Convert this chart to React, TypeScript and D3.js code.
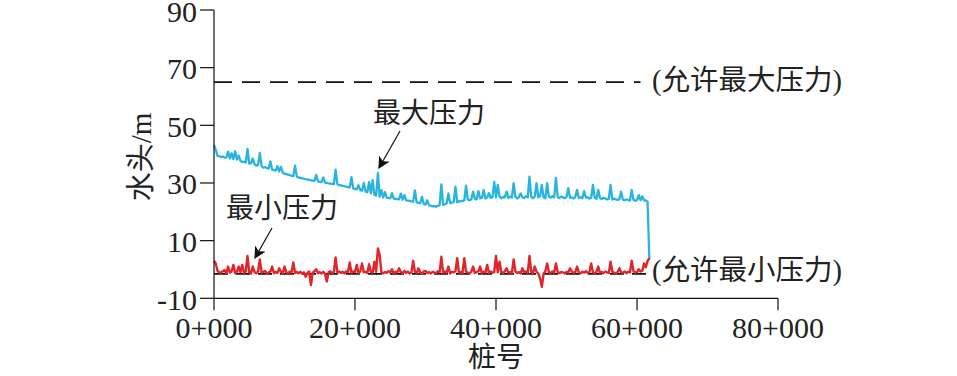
import React from "react";
import * as d3 from "d3";

// station step (km) between consecutive samples
const STATION_STEP = 0.25;

// 最大压力 (m), one value per 0.25 km from 0+000
const maxPressure: number[] = [
  43.2, 41.5, 39.4, 39.3, 39.0, 39.2, 38.8, 38.9,
  40.9, 38.5, 40.3, 38.3, 41.0, 38.1, 39.5, 37.7,
  37.3, 37.4, 37.1, 41.8, 36.7, 36.9, 38.5, 36.5,
  36.0, 36.2, 40.4, 35.9, 35.3, 35.5, 35.2, 35.0,
  37.5, 34.6, 34.5, 34.3, 35.8, 34.0, 35.6, 33.6,
  33.2, 33.1, 32.9, 32.7, 32.5, 32.4, 36.0, 32.1,
  31.9, 31.8, 31.6, 31.5, 31.3, 31.2, 31.1, 30.9,
  30.8, 30.7, 32.8, 30.5, 30.4, 30.3, 31.9, 30.1,
  30.0, 29.9, 29.8, 29.7, 29.6, 34.6, 29.5, 29.3,
  29.2, 29.0, 28.9, 28.7, 28.6, 28.4, 32.0, 28.1,
  28.0, 27.8, 29.2, 27.5, 27.3, 30.0, 27.0, 26.8,
  30.4, 26.4, 31.0, 25.9, 25.6, 33.5, 25.2, 27.5,
  25.0, 26.8, 24.9, 24.8, 24.7, 26.5, 24.6, 24.5,
  24.4, 24.3, 26.3, 24.2, 25.8, 24.0, 23.9, 23.8,
  23.6, 23.5, 27.4, 23.3, 23.1, 23.0, 25.2, 22.7,
  22.5, 24.0, 22.3, 22.1, 21.9, 22.0, 21.8, 22.1,
  22.3, 29.5, 22.4, 22.6, 22.9, 26.4, 23.0, 23.2,
  23.4, 28.7, 23.3, 23.6, 23.8, 23.7, 24.0, 29.1,
  24.2, 24.0, 24.4, 27.0, 24.5, 24.3, 27.2, 24.7,
  24.8, 27.6, 24.6, 25.0, 26.5, 24.8, 25.1, 30.4,
  25.0, 29.3, 25.3, 24.7, 25.2, 25.0, 27.0, 24.8,
  25.3, 25.0, 29.9, 25.2, 24.6, 25.1, 26.4, 25.0,
  24.8, 25.4, 25.0, 32.2, 25.2, 24.7, 25.3, 29.9,
  25.0, 25.4, 29.3, 25.0, 24.7, 29.9, 25.2, 24.9,
  25.4, 25.0, 31.8, 25.1, 24.8, 25.3, 25.0, 24.7,
  25.1, 28.2, 24.9, 25.0, 24.6, 25.2, 27.6, 24.8,
  25.0, 24.7, 27.2, 24.9, 25.1, 24.6, 24.8, 29.3,
  24.9, 24.5, 27.6, 24.8, 24.4, 24.9, 24.6, 24.3,
  24.5, 29.3, 24.2, 24.6, 24.3, 24.1, 24.4, 27.0,
  24.2, 24.0, 24.3, 24.1, 23.9, 27.6, 24.2, 23.8,
  24.1, 25.8, 24.0, 25.4, 23.9, 24.0, 23.5, 3.5,
];

// 最小压力 (m), one value per 0.25 km from 0+000
const minPressure: number[] = [
  3.0, 2.0, -0.5, -0.9, -1.2, -0.6, -0.2, -1.4,
  1.0, -1.1, -0.6, 1.6, -1.3, -0.8, 1.0, -1.0,
  1.6, -1.2, -0.7, 4.7, -1.0, -1.4, 1.0, -0.9,
  -1.3, -0.6, 3.5, -1.1, -0.8, -0.5, -1.5, -1.0,
  -0.7, 1.0, -1.3, -0.9, -1.2, 0.4, -0.8, -1.3,
  1.0, -1.0, -1.4, -0.7, -1.1, 2.4, -1.2, -0.9,
  -1.3, -0.8, -1.5, -1.0, -2.5, -1.2, -0.7, -5.4,
  -1.1, -0.6, 0.1, -1.3, -0.9, -1.4, -0.8, -1.6,
  -4.2, -1.0, -0.6, -1.3, -0.9, 4.2, -1.1, -0.7,
  -1.2, -0.8, -1.4, -0.6, -1.0, 2.4, -1.2, -0.7,
  -0.9, 1.6, -1.3, -0.6, 2.1, -1.0, -0.8, -1.2,
  1.8, -0.9, -1.1, 2.7, -0.8, 7.3, 5.0, -1.0,
  -1.3, -0.9, -1.2, -0.6, -1.0, 0.1, -1.4, -0.8,
  -1.1, 0.4, -0.9, -1.3, -0.5, -1.2, -0.7, -1.4,
  -1.0, 3.0, -0.8, -1.2, 0.4, -1.0, -1.5, -0.7,
  -0.5, -1.2, -0.9, -1.4, -0.8, -1.1, -1.3, -0.6,
  -1.0, 4.4, -1.2, -0.7, -1.1, 1.0, -1.4, -0.8,
  -1.0, -0.6, 3.9, -1.2, -0.9, -1.3, 3.9, -0.8,
  -1.1, -1.4, -0.7, 1.0, -1.2, -0.9, -0.6, 1.0,
  -1.3, -0.8, -1.0, 1.6, -1.2, -0.7, -1.1, -0.9,
  4.7, -1.0, 2.7, -0.8, -1.3, -0.6, 0.4, -1.1,
  -0.9, -1.3, 3.5, -0.7, -1.2, -0.9, -1.4, 0.4,
  -1.0, -0.7, -1.2, 4.7, -0.9, -1.3, 1.0, -0.8,
  -1.4, -3.0, -6.0, -1.5, -0.6, 2.1, -0.9, -1.2,
  -0.7, -1.1, 2.1, -0.8, -1.3, -0.9, -1.0, -1.4,
  -0.8, -1.1, 0.4, -0.7, -1.2, -0.9, 1.0, -1.0,
  -1.3, -0.8, -1.1, -0.6, -1.2, -0.9, 2.1, -1.0,
  -1.4, -0.8, 1.0, -1.1, -0.9, -1.3, -0.7, -1.0,
  -1.2, 2.7, -0.8, -1.1, -1.4, -0.9, 0.4, -1.0,
  -1.2, -0.7, -1.3, -0.8, -1.0, 3.0, -0.6, -1.1,
  -0.9, 0.1, -0.7, -0.4, 2.1, 0.8, 3.0, 3.9,
];

const allowedMax = 65;
const allowedMin = -1.5;
const allowedLineEnd = 60.5; // km

const xTicks = [0, 20, 40, 60, 80];
const xTickLabels = ["0+000", "20+000", "40+000", "60+000", "80+000"];
const yTicks = [-10, 10, 30, 50, 70, 90];

const xTitle = "桩号";
const yTitle = "水头/m";
const maxLabel = "最大压力";
const minLabel = "最小压力";
const allowedMaxLabel = "(允许最大压力)";
const allowedMinLabel = "(允许最小压力)";

const FONT = "'Liberation Serif', 'Times New Roman', 'Noto Sans CJK SC', serif";

export default function App() {
  const W = 957;
  const H = 376;
  const x = d3.scaleLinear().domain([0, 80]).range([214, 778]);
  const y = d3.scaleLinear().domain([-10, 90]).range([298.3, 10]);

  const line = d3
    .line<number>()
    .x((_, i) => x(i * STATION_STEP))
    .y((d) => y(d));

  const x0 = x(0);
  const y0 = y(-10);

  return (
    <svg
      width={W}
      height={H}
      style={{ position: "absolute", left: 0, top: 0, background: "#fff" }}
      fontFamily={FONT}
    >
      <defs>
        <marker
          id="arrow"
          viewBox="0 0 10 10"
          refX="9"
          refY="5"
          markerWidth="12"
          markerHeight="12"
          markerUnits="userSpaceOnUse"
          orient="auto"
        >
          <path d="M0,0 L10,5 L0,10 L2.5,5 Z" fill="#111" />
        </marker>
      </defs>

      {/* allowed lines */}
      <line
        x1={x0}
        x2={x(allowedLineEnd)}
        y1={y(allowedMax)}
        y2={y(allowedMax)}
        stroke="#111"
        strokeWidth={1.7}
        strokeDasharray="18,10"
      />
      <line
        x1={x0}
        x2={x(allowedLineEnd) + 6}
        y1={y(allowedMin)}
        y2={y(allowedMin)}
        stroke="#111"
        strokeWidth={1.7}
        strokeDasharray="14,8"
      />

      {/* series */}
      <path d={line(maxPressure) ?? ""} fill="none" stroke="#27b4e0" strokeWidth={2.3} strokeLinejoin="round" />
      <path d={line(minPressure) ?? ""} fill="none" stroke="#e0262b" strokeWidth={2.4} strokeLinejoin="round" />

      {/* axes */}
      <line x1={x0} x2={x0} y1={y(90)} y2={y0} stroke="#111" strokeWidth={1.2} />
      <line x1={x0} x2={x(80)} y1={y0} y2={y0} stroke="#111" strokeWidth={1.2} />
      {yTicks.map((t) => (
        <g key={t}>
          <line x1={x0 - 14} x2={x0} y1={y(t)} y2={y(t)} stroke="#111" strokeWidth={1.2} />
          <text x={x0 - 17} y={y(t) + 1} textAnchor="end" dominantBaseline="central" fontSize={30} fill="#222">
            {t}
          </text>
        </g>
      ))}
      {xTicks.map((t, i) => (
        <g key={t}>
          <line x1={x(t)} x2={x(t)} y1={y0} y2={y0 + 12} stroke="#111" strokeWidth={1.2} />
          <text x={x(t)} y={y0 + 29} textAnchor="middle" dominantBaseline="central" fontSize={30} fill="#222">
            {xTickLabels[i]}
          </text>
        </g>
      ))}

      <text x={496} y={357} textAnchor="middle" dominantBaseline="central" fontSize={28} fill="#222">
        {xTitle}
      </text>
      <text
        transform="translate(141,157) rotate(-90)"
        textAnchor="middle"
        dominantBaseline="central"
        fontSize={29}
        fill="#222"
      >
        {yTitle}
      </text>

      {/* annotations */}
      <text x={373} y={113} dominantBaseline="central" fontSize={28} fill="#222">
        {maxLabel}
      </text>
      <line x1={400} y1={131} x2={379} y2={168} stroke="#111" strokeWidth={1.2} markerEnd="url(#arrow)" />
      <text x={226} y={208} dominantBaseline="central" fontSize={28} fill="#222">
        {minLabel}
      </text>
      <line x1={272} y1={228} x2={255} y2={258} stroke="#111" strokeWidth={1.2} markerEnd="url(#arrow)" />

      <text x={652} y={80} dominantBaseline="central" fontSize={28.5} fill="#222">
        {allowedMaxLabel}
      </text>
      <text x={652} y={270} dominantBaseline="central" fontSize={28.5} fill="#222">
        {allowedMinLabel}
      </text>
    </svg>
  );
}
